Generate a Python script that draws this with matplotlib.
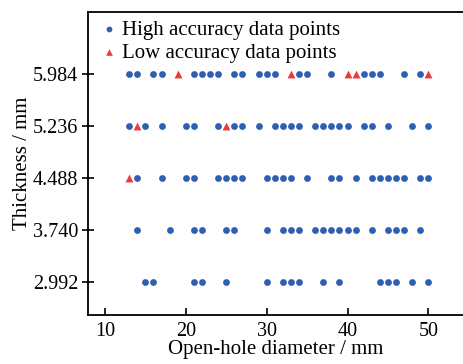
import matplotlib
matplotlib.use("Agg")
import matplotlib.pyplot as plt

thickness_levels = [2.992, 3.740, 4.488, 5.236, 5.984]
y_ticklabels = ["2.992", "3.740", "4.488", "5.236", "5.984"]
x_ticks = [10, 20, 30, 40, 50]

high_5984 = [13, 14, 16, 17, 21, 22, 23, 24, 26, 27, 29, 30, 31, 34, 35, 38, 42, 43, 44, 47, 49]
low_5984 = [19, 33, 40, 41, 50]
high_5236 = [13, 15, 17, 20, 21, 24, 26, 27, 29, 31, 32, 33, 34, 36, 37, 38, 39, 40, 42, 43, 45, 48, 50]
low_5236 = [14, 25]
high_4488 = [14, 17, 20, 21, 24, 25, 26, 27, 30, 31, 32, 33, 35, 38, 39, 41, 43, 44, 45, 46, 47, 49, 50]
low_4488 = [13]
high_3740 = [14, 18, 21, 22, 25, 26, 30, 32, 33, 34, 36, 37, 38, 39, 40, 41, 43, 45, 46, 47, 49]
high_2992 = [15, 16, 21, 22, 25, 30, 32, 33, 34, 37, 39, 44, 45, 46, 48, 50]

high_rows = {2.992: high_2992, 3.740: high_3740, 4.488: high_4488, 5.236: high_5236, 5.984: high_5984}
low_rows = {4.488: low_4488, 5.236: low_5236, 5.984: low_5984}

hx, hy = [], []
for t, xs in high_rows.items():
    hx += xs
    hy += [t] * len(xs)
lx, ly = [], []
for t, xs in low_rows.items():
    lx += xs
    ly += [t] * len(xs)

plt.rcParams['font.family'] = ['Liberation Serif', 'DejaVu Serif']

fig = plt.figure(figsize=(4.63, 3.64), dpi=100)
ax = fig.add_axes([88/463, 1 - 315/364, 1 - 88/463 + 0.002, (315 - 12)/364])

blue = '#2f5fb3'
red = '#ee3a3a'
ax.scatter(hx, hy, s=24, marker='o', color=blue, linewidths=0, label='High accuracy data points', zorder=3)
ax.scatter(lx, ly, s=32, marker='^', color=red, linewidths=0, label='Low accuracy data points', zorder=4)

ax.set_xlim(7.9, 54.4)
ax.set_ylim(2.508, 6.886)
ax.set_xticks(x_ticks)
ax.set_yticks(thickness_levels)
ax.set_yticklabels(y_ticklabels)
ax.tick_params(axis='x', direction='in', length=5, width=1.2, labelsize=14.5, pad=5)
ax.tick_params(axis='y', direction='inout', length=8, width=1.2, labelsize=14.5, pad=3)
for s in ['left', 'bottom', 'top']:
    ax.spines[s].set_linewidth(1.3)
ax.spines['right'].set_visible(False)

ax.set_xlabel('Open-hole diameter / mm', fontsize=15, labelpad=-1)
ax.set_ylabel('Thickness / mm', fontsize=15, labelpad=1)

leg = ax.legend(loc='upper left', frameon=False, fontsize=15, handletextpad=0.05,
                borderaxespad=0.0, labelspacing=0.15, handlelength=1.2, markerscale=0.85,
                bbox_to_anchor=(0.0, 1.0))

fig.savefig('out.png', dpi=100)
